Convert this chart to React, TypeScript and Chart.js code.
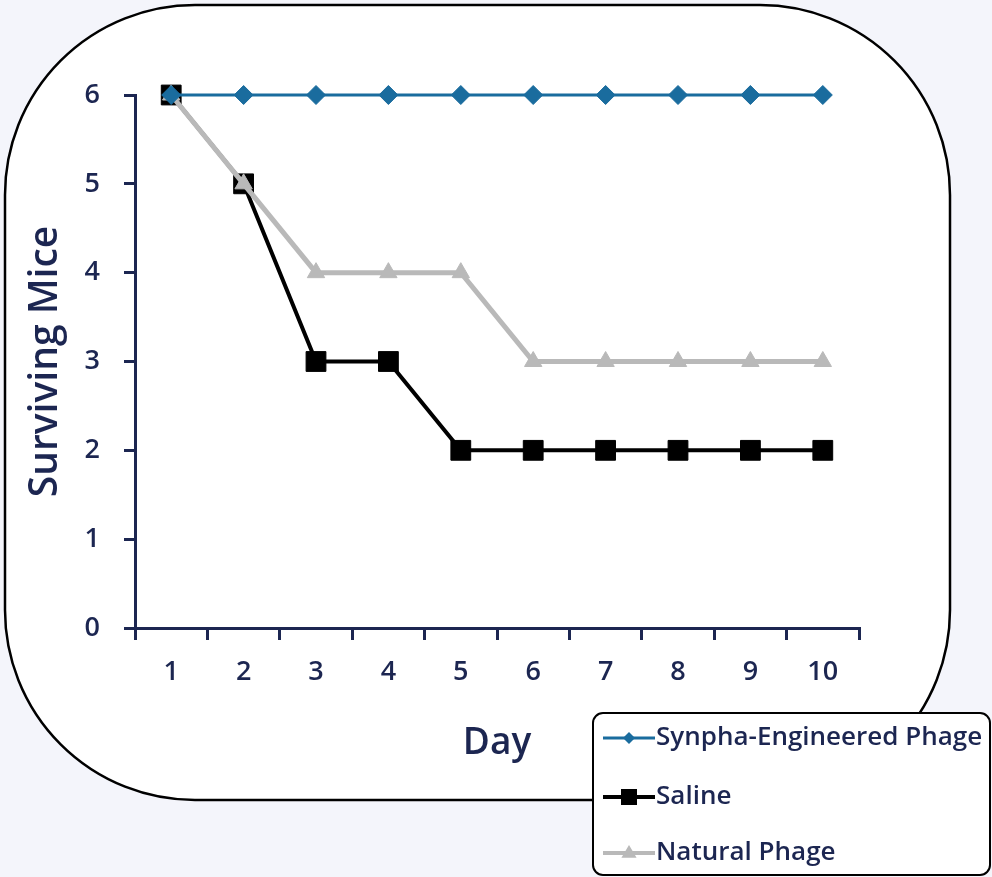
import React, { useEffect, useRef } from "react";
import { Chart, registerables } from "chart.js";

Chart.register(...registerables);

const days = ["1", "2", "3", "4", "5", "6", "7", "8", "9", "10"];
const synpha = [6, 6, 6, 6, 6, 6, 6, 6, 6, 6];
const saline = [6, 5, 3, 3, 2, 2, 2, 2, 2, 2];
const natural = [6, 5, 4, 4, 4, 3, 3, 3, 3, 3];
const seriesNames = ["Synpha-Engineered Phage", "Saline", "Natural Phage"];

const NAVY = "#1c2651";
const BLUE = "#1a6c9e";
const GRAY = "#b9b9b9";
const BG = "#f4f5fb";
const FONT = "'Open Sans', 'DejaVu Sans', sans-serif";

function drawMarker(ctx: CanvasRenderingContext2D, style: string, x: number, y: number, r: number, color: string) {
  ctx.save();
  ctx.fillStyle = color;
  ctx.beginPath();
  if (style === "rectRot") {
    ctx.moveTo(x, y - r);
    ctx.lineTo(x + r, y);
    ctx.lineTo(x, y + r);
    ctx.lineTo(x - r, y);
  } else if (style === "rect") {
    ctx.rect(x - r, y - r, 2 * r, 2 * r);
  } else {
    ctx.moveTo(x, y - r);
    ctx.lineTo(x + r * 0.95, y + r * 0.6);
    ctx.lineTo(x - r * 0.95, y + r * 0.6);
  }
  ctx.closePath();
  ctx.fill();
  ctx.restore();
}

function roundRect(ctx: CanvasRenderingContext2D, x: number, y: number, w: number, h: number, r: number) {
  ctx.beginPath();
  ctx.moveTo(x + r, y);
  ctx.lineTo(x + w - r, y);
  ctx.arcTo(x + w, y, x + w, y + r, r);
  ctx.lineTo(x + w, y + h - r);
  ctx.arcTo(x + w, y + h, x + w - r, y + h, r);
  ctx.lineTo(x + r, y + h);
  ctx.arcTo(x, y + h, x, y + h - r, r);
  ctx.lineTo(x, y + r);
  ctx.arcTo(x, y, x + r, y, r);
  ctx.closePath();
}

const framePlugin = {
  id: "frame",
  beforeDraw(chart: any) {
    const ctx = chart.ctx as CanvasRenderingContext2D;
    ctx.save();
    ctx.fillStyle = BG;
    ctx.fillRect(0, 0, chart.width, chart.height);
    roundRect(ctx, 5, 5, 945, 795, 190);
    ctx.fillStyle = "#ffffff";
    ctx.fill();
    ctx.lineWidth = 2.5;
    ctx.strokeStyle = "#000000";
    ctx.stroke();
    ctx.restore();
  },
  afterDraw(chart: any) {
    const ctx = chart.ctx as CanvasRenderingContext2D;
    ctx.save();
    roundRect(ctx, 593, 713, 397, 162, 10);
    ctx.fillStyle = "#ffffff";
    ctx.fill();
    ctx.lineWidth = 2;
    ctx.strokeStyle = "#000000";
    ctx.stroke();
    const rows = [738, 797, 853];
    const styles = [
      { color: BLUE, marker: "rectRot", r: 6, lw: 3 },
      { color: "#000000", marker: "rect", r: 8, lw: 4 },
      { color: GRAY, marker: "triangle", r: 8, lw: 4 },
    ];
    seriesNames.forEach((name, i) => {
      const y = rows[i];
      const s = styles[i];
      ctx.strokeStyle = s.color;
      ctx.lineWidth = s.lw;
      ctx.beginPath();
      ctx.moveTo(603, y);
      ctx.lineTo(655, y);
      ctx.stroke();
      drawMarker(ctx, s.marker, 629, y, s.r, s.color);
      ctx.fillStyle = NAVY;
      ctx.font = `600 26px ${FONT}`;
      ctx.textBaseline = "middle";
      ctx.textAlign = "left";
      ctx.fillText(name, 656, y);
    });
    ctx.restore();
  },
};

export default function App() {
  const ref = useRef<HTMLCanvasElement | null>(null);
  useEffect(() => {
    document.body.style.margin = "0";
    const canvas = ref.current;
    if (!canvas) return;
    const chart = new Chart(canvas, {
      type: "line",
      data: {
        labels: days,
        datasets: [
          {
            label: seriesNames[0],
            data: synpha,
            borderColor: BLUE,
            backgroundColor: BLUE,
            pointBackgroundColor: BLUE,
            pointBorderColor: BLUE,
            borderWidth: 3,
            pointStyle: "rectRot",
            pointRadius: 9.5,
            pointBorderWidth: 1,
            order: 0,
            clip: false,
          },
          {
            label: seriesNames[1],
            data: saline,
            borderColor: "#000000",
            backgroundColor: "#000000",
            pointBackgroundColor: "#000000",
            pointBorderColor: "#000000",
            borderWidth: 4,
            pointStyle: "rect",
            pointRadius: 14,
            pointBorderWidth: 1,
            order: 2,
            clip: false,
          },
          {
            label: seriesNames[2],
            data: natural,
            borderColor: GRAY,
            backgroundColor: GRAY,
            pointBackgroundColor: GRAY,
            pointBorderColor: GRAY,
            borderWidth: 5,
            pointStyle: "triangle",
            pointRadius: 10,
            pointBorderWidth: 1,
            order: 1,
            clip: false,
          },
        ],
      },
      options: {
        responsive: false,
        animation: false,
        layout: { padding: { left: 0, top: 95, right: 133, bottom: 0 } },
        plugins: {
          legend: { display: false },
          tooltip: { enabled: false },
        },
        scales: {
          x: {
            type: "category",
            offset: true,
            afterFit: (scale: any) => {
              scale.height = 249;
            },
            grid: {
              display: true,
              drawOnChartArea: false,
              drawTicks: true,
              tickLength: 12,
              offset: true,
              color: NAVY,
              lineWidth: 3,
            },
            border: { display: true, color: NAVY, width: 3 },
            ticks: {
              color: NAVY,
              font: { family: FONT, size: 27, weight: "600" },
              padding: 16,
              maxRotation: 0,
            },
            title: {
              display: true,
              text: "Day",
              color: NAVY,
              font: { family: FONT, size: 37, weight: "600" },
              padding: { top: 111, bottom: 111 },
            },
          },
          y: {
            min: 0,
            max: 6,
            afterFit: (scale: any) => {
              scale.width = 135;
            },
            grid: {
              display: true,
              drawOnChartArea: false,
              drawTicks: true,
              tickLength: 11,
              color: NAVY,
              lineWidth: 3,
            },
            border: { display: true, color: NAVY, width: 3 },
            ticks: {
              stepSize: 1,
              color: NAVY,
              font: { family: FONT, size: 27, weight: "600" },
              padding: 24,
            },
            title: {
              display: true,
              text: "Surviving Mice",
              color: NAVY,
              font: { family: FONT, size: 39, weight: "600" },
              padding: { top: 22, bottom: 22 },
            },
          },
        },
      },
      plugins: [framePlugin],
    });
    return () => chart.destroy();
  }, []);
  return (
    <div style={{ position: "fixed", left: 0, top: 0, width: 992, height: 877, background: BG }}>
      <canvas ref={ref} width={992} height={877} style={{ display: "block" }} />
    </div>
  );
}
